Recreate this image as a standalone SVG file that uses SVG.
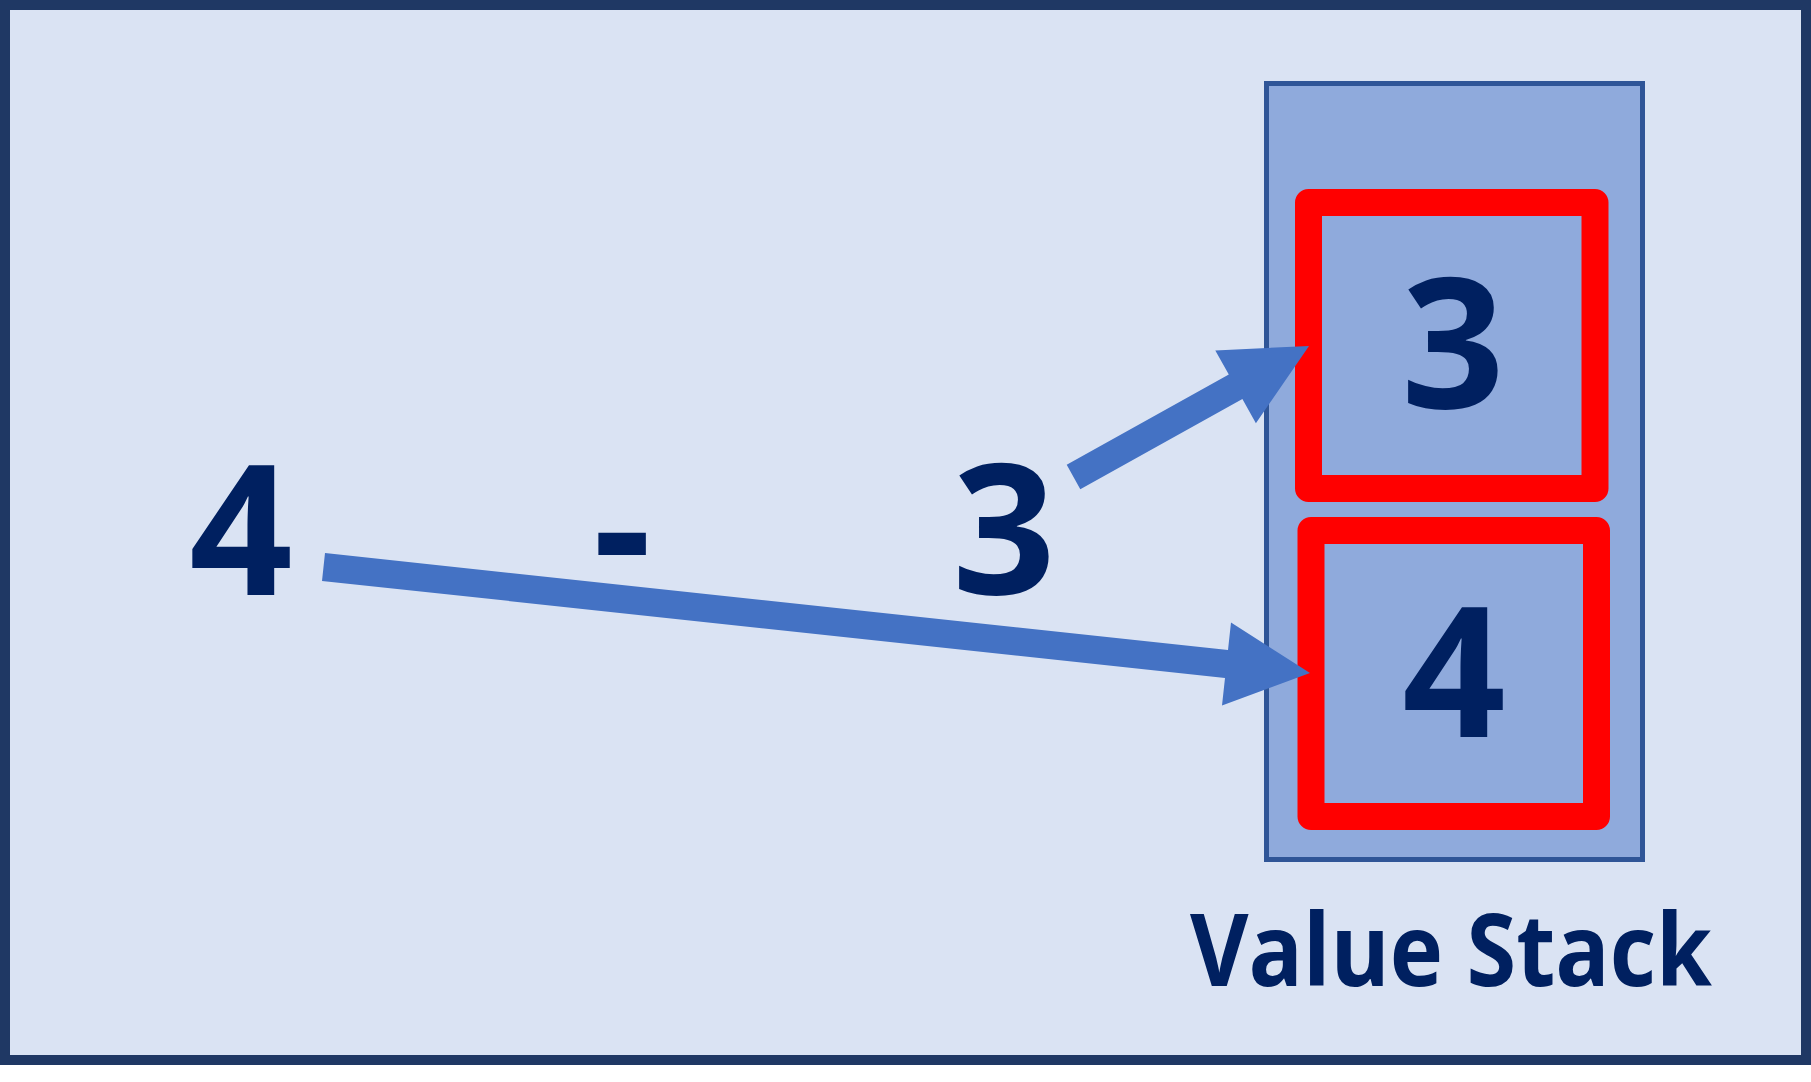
<svg xmlns="http://www.w3.org/2000/svg" width="1811" height="1082" viewBox="0 0 1811 1082">
<style>
.t{font-family:"Open Sans","Liberation Sans",sans-serif;font-weight:700;fill:#002060;text-anchor:middle}
.big{font-size:181px}
.lbl{font-size:100px}
.cell{fill:none;stroke:#FF0000;stroke-width:27;stroke-linejoin:round}
.arrow{fill:#4472C4}
</style>
<rect x="0" y="0" width="1811" height="1082" fill="#FFFFFF"/>
<g id="frame">
<rect x="5" y="5" width="1801" height="1055" fill="#DAE3F3" stroke="#1F3864" stroke-width="10"/>
</g>
<g id="stack">
<rect x="1266.5" y="83.5" width="376" height="776" fill="#8FAADC" stroke="#2F5597" stroke-width="5"/>
</g>
<g id="cell-top">
<rect class="cell" x="1308.5" y="202.5" width="286.5" height="286"/>
<text class="t big" x="1453" y="408">3</text>
</g>
<g id="cell-bottom">
<rect class="cell" x="1311" y="530.5" width="285.5" height="286"/>
<text class="t big" x="1454" y="737">4</text>
</g>
<g id="expr-4"><text class="t big" x="241" y="595">4</text></g>
<g id="expr-minus"><text class="t big" x="622" y="593">-</text></g>
<g id="expr-3"><text class="t big" x="1004" y="594">3</text></g>
<g id="label"><text class="t lbl" x="1451" y="986" textLength="522" lengthAdjust="spacingAndGlyphs">Value Stack</text></g>
<g id="connectors">
<polygon class="arrow" points="325,553.1 1228,650.1 1231,622.5 1310,673 1222,705.5 1225,677.9 322,580.9"/>
<polygon class="arrow" points="1066.7,464.8 1228.8,374.6 1215.3,350.4 1309,346 1255.9,423.2 1242.4,399 1080.3,489.2"/>
</g>
</svg>
